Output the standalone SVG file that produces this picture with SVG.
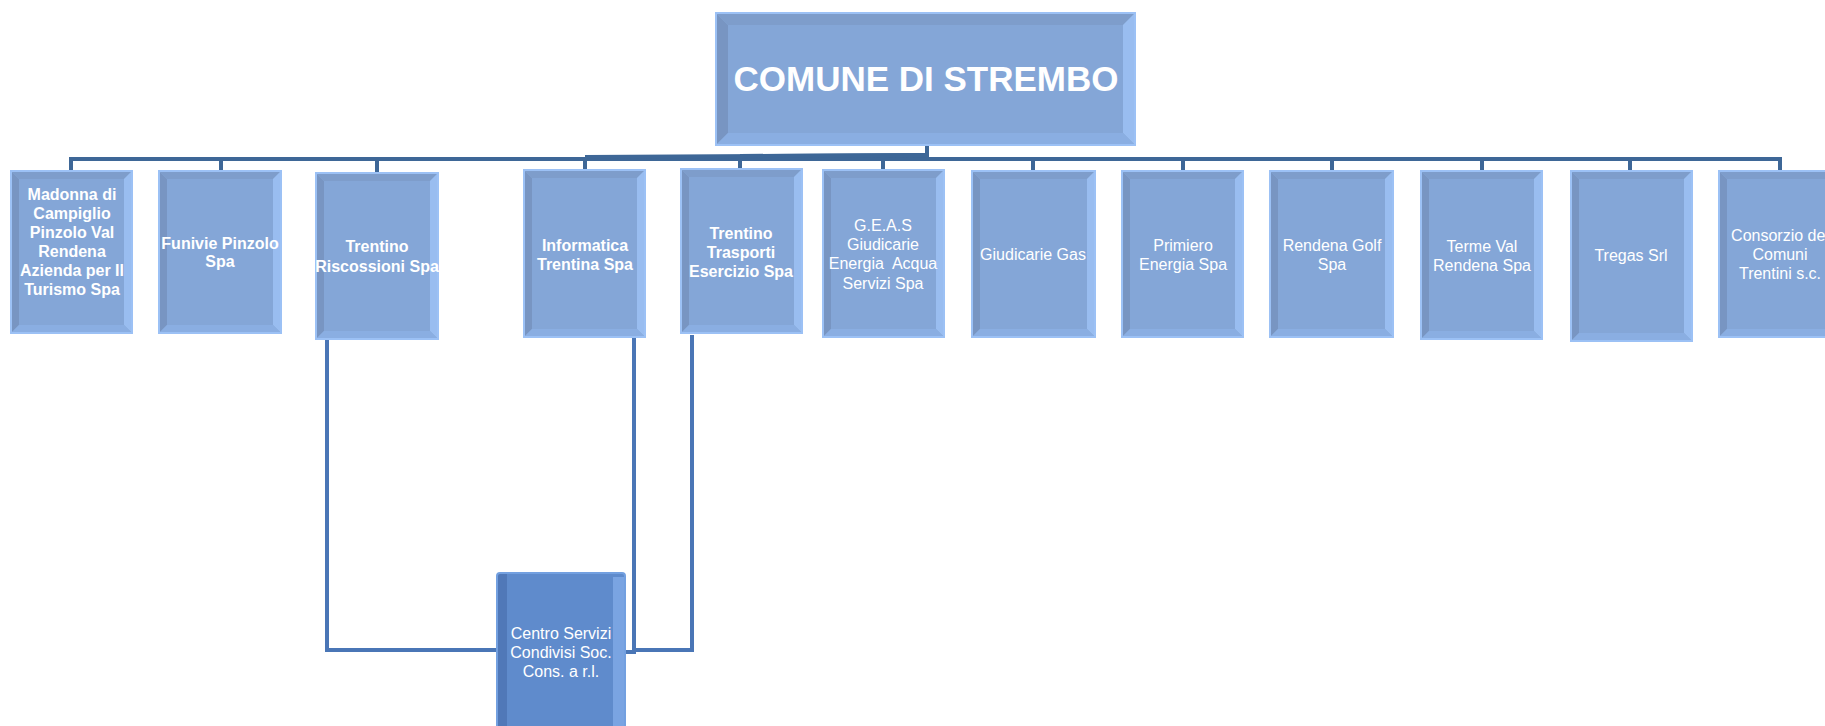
<svg xmlns="http://www.w3.org/2000/svg" width="1825" height="726" viewBox="0 0 1825 726">
<defs>
<style>
.face{fill:#84a6d7}
.bl{fill:#7895c2}
.bt{fill:#7e9dcb}
.br{fill:#99bdf0}
.bb{fill:#8aaee2}
.edge{fill:none;stroke:#9cc1f5;stroke-width:2}
.t{font-family:"Liberation Sans",Arial,sans-serif;font-size:16px;fill:#ffffff;text-anchor:middle}
.b{font-weight:bold}
.title{font-size:35px}
.conn{fill:none;stroke:#3e6797;stroke-width:4}
.conn2{fill:none;stroke:#4a76b6;stroke-width:4}
</style>
</defs>
<rect width="1825" height="726" fill="#ffffff"/>

<g id="connectors">
<line class="conn" x1="927" y1="146" x2="927" y2="160"/>
<line class="conn" x1="69" y1="159" x2="1782" y2="159" stroke-width="5"/>
<polyline class="conn" points="585,157 927,155" stroke-width="2"/>
<polyline class="conn" points="740,156 927,155" stroke-width="2"/>
<line class="conn" x1="71" y1="157" x2="71" y2="172"/>
<line class="conn" x1="221" y1="157" x2="221" y2="172"/>
<line class="conn" x1="377" y1="157" x2="377" y2="174"/>
<line class="conn" x1="585" y1="157" x2="585" y2="171"/>
<line class="conn" x1="740" y1="157" x2="740" y2="170"/>
<line class="conn" x1="883" y1="157" x2="883" y2="171"/>
<line class="conn" x1="1033" y1="157" x2="1033" y2="172"/>
<line class="conn" x1="1183" y1="157" x2="1183" y2="172"/>
<line class="conn" x1="1332" y1="157" x2="1332" y2="172"/>
<line class="conn" x1="1482" y1="157" x2="1482" y2="172"/>
<line class="conn" x1="1630" y1="157" x2="1630" y2="172"/>
<line class="conn" x1="1780" y1="157" x2="1780" y2="172"/>
<polyline class="conn2" points="327,339 327,650 497,650"/>
<polyline class="conn2" points="634,337 634,652 625,652"/>
<polyline class="conn2" points="692,335 692,650 634,650"/>
</g>

<g id="root">
<rect class="face" x="716" y="13" width="419" height="132"/>
<polygon class="bl" points="716,13 728,25 728,133 716,145"/>
<polygon class="bt" points="716,13 1135,13 1123,25 728,25"/>
<polygon class="br" points="1135,13 1135,145 1123,133 1123,25"/>
<polygon class="bb" points="716,145 728,133 1123,133 1135,145"/>
<rect class="face" x="728" y="25" width="395" height="108"/>
<rect class="edge" x="716" y="13" width="419" height="132"/>
<text class="t b title" x="926" y="91">COMUNE DI STREMBO</text>
</g>

<g id="n1">
<rect class="face" x="11" y="171" width="121" height="162"/>
<polygon class="bl" points="11,171 19,179 19,325 11,333"/>
<polygon class="bt" points="11,171 132,171 124,179 19,179"/>
<polygon class="br" points="132,171 132,333 124,325 124,179"/>
<polygon class="bb" points="11,333 19,325 124,325 132,333"/>
<rect class="edge" x="11" y="171" width="121" height="162"/>
<text class="t b" x="72" y="200">Madonna di</text>
<text class="t b" x="72" y="219">Campiglio</text>
<text class="t b" x="72" y="238">Pinzolo Val</text>
<text class="t b" x="72" y="257">Rendena</text>
<text class="t b" x="72" y="276">Azienda per Il</text>
<text class="t b" x="72" y="295">Turismo Spa</text>
</g>

<g id="n2">
<rect class="face" x="159" y="171" width="122" height="162"/>
<polygon class="bl" points="159,171 167,179 167,325 159,333"/>
<polygon class="bt" points="159,171 281,171 273,179 167,179"/>
<polygon class="br" points="281,171 281,333 273,325 273,179"/>
<polygon class="bb" points="159,333 167,325 273,325 281,333"/>
<rect class="edge" x="159" y="171" width="122" height="162"/>
<text class="t b" x="220" y="249">Funivie Pinzolo</text>
<text class="t b" x="220" y="267">Spa</text>
</g>

<g id="n3">
<rect class="face" x="316" y="173" width="122" height="166"/>
<polygon class="bl" points="316,173 324,181 324,331 316,339"/>
<polygon class="bt" points="316,173 438,173 430,181 324,181"/>
<polygon class="br" points="438,173 438,339 430,331 430,181"/>
<polygon class="bb" points="316,339 324,331 430,331 438,339"/>
<rect class="edge" x="316" y="173" width="122" height="166"/>
<text class="t b" x="377" y="252">Trentino</text>
<text class="t b" x="377" y="272">Riscossioni Spa</text>
</g>

<g id="n4">
<rect class="face" x="524" y="170" width="121" height="167"/>
<polygon class="bl" points="524,170 532,178 532,329 524,337"/>
<polygon class="bt" points="524,170 645,170 637,178 532,178"/>
<polygon class="br" points="645,170 645,337 637,329 637,178"/>
<polygon class="bb" points="524,337 532,329 637,329 645,337"/>
<rect class="edge" x="524" y="170" width="121" height="167"/>
<text class="t b" x="585" y="251">Informatica</text>
<text class="t b" x="585" y="270">Trentina Spa</text>
</g>

<g id="n5">
<rect class="face" x="681" y="169" width="121" height="164"/>
<polygon class="bl" points="681,169 689,177 689,325 681,333"/>
<polygon class="bt" points="681,169 802,169 794,177 689,177"/>
<polygon class="br" points="802,169 802,333 794,325 794,177"/>
<polygon class="bb" points="681,333 689,325 794,325 802,333"/>
<rect class="edge" x="681" y="169" width="121" height="164"/>
<text class="t b" x="741" y="239">Trentino</text>
<text class="t b" x="741" y="258">Trasporti</text>
<text class="t b" x="741" y="277">Esercizio Spa</text>
</g>

<g id="n6">
<rect class="face" x="823" y="170" width="121" height="167"/>
<polygon class="bl" points="823,170 831,178 831,329 823,337"/>
<polygon class="bt" points="823,170 944,170 936,178 831,178"/>
<polygon class="br" points="944,170 944,337 936,329 936,178"/>
<polygon class="bb" points="823,337 831,329 936,329 944,337"/>
<rect class="edge" x="823" y="170" width="121" height="167"/>
<text class="t" x="883" y="231">G.E.A.S</text>
<text class="t" x="883" y="250">Giudicarie</text>
<text class="t" x="883" y="269" xml:space="preserve">Energia  Acqua</text>
<text class="t" x="883" y="289">Servizi Spa</text>
</g>

<g id="n7">
<rect class="face" x="972" y="171" width="123" height="166"/>
<polygon class="bl" points="972,171 980,179 980,329 972,337"/>
<polygon class="bt" points="972,171 1095,171 1087,179 980,179"/>
<polygon class="br" points="1095,171 1095,337 1087,329 1087,179"/>
<polygon class="bb" points="972,337 980,329 1087,329 1095,337"/>
<rect class="edge" x="972" y="171" width="123" height="166"/>
<text class="t" x="1033" y="260">Giudicarie Gas</text>
</g>

<g id="n8">
<rect class="face" x="1122" y="171" width="121" height="166"/>
<polygon class="bl" points="1122,171 1130,179 1130,329 1122,337"/>
<polygon class="bt" points="1122,171 1243,171 1235,179 1130,179"/>
<polygon class="br" points="1243,171 1243,337 1235,329 1235,179"/>
<polygon class="bb" points="1122,337 1130,329 1235,329 1243,337"/>
<rect class="edge" x="1122" y="171" width="121" height="166"/>
<text class="t" x="1183" y="251">Primiero</text>
<text class="t" x="1183" y="270">Energia Spa</text>
</g>

<g id="n9">
<rect class="face" x="1270" y="171" width="123" height="166"/>
<polygon class="bl" points="1270,171 1278,179 1278,329 1270,337"/>
<polygon class="bt" points="1270,171 1393,171 1385,179 1278,179"/>
<polygon class="br" points="1393,171 1393,337 1385,329 1385,179"/>
<polygon class="bb" points="1270,337 1278,329 1385,329 1393,337"/>
<rect class="edge" x="1270" y="171" width="123" height="166"/>
<text class="t" x="1332" y="251">Rendena Golf</text>
<text class="t" x="1332" y="270">Spa</text>
</g>

<g id="n10">
<rect class="face" x="1421" y="171" width="121" height="168"/>
<polygon class="bl" points="1421,171 1429,179 1429,331 1421,339"/>
<polygon class="bt" points="1421,171 1542,171 1534,179 1429,179"/>
<polygon class="br" points="1542,171 1542,339 1534,331 1534,179"/>
<polygon class="bb" points="1421,339 1429,331 1534,331 1542,339"/>
<rect class="edge" x="1421" y="171" width="121" height="168"/>
<text class="t" x="1482" y="252">Terme Val</text>
<text class="t" x="1482" y="271">Rendena Spa</text>
</g>

<g id="n11">
<rect class="face" x="1571" y="171" width="121" height="170"/>
<polygon class="bl" points="1571,171 1579,179 1579,333 1571,341"/>
<polygon class="bt" points="1571,171 1692,171 1684,179 1579,179"/>
<polygon class="br" points="1692,171 1692,341 1684,333 1684,179"/>
<polygon class="bb" points="1571,341 1579,333 1684,333 1692,341"/>
<rect class="edge" x="1571" y="171" width="121" height="170"/>
<text class="t" x="1631" y="261">Tregas Srl</text>
</g>

<g id="n12">
<rect class="face" x="1719" y="171" width="121" height="166"/>
<polygon class="bl" points="1719,171 1727,179 1727,329 1719,337"/>
<polygon class="bt" points="1719,171 1840,171 1832,179 1727,179"/>
<polygon class="bb" points="1719,337 1727,329 1832,329 1840,337"/>
<rect class="edge" x="1719" y="171" width="121" height="166"/>
<text class="t" x="1780" y="241">Consorzio dei</text>
<text class="t" x="1780" y="260">Comuni</text>
<text class="t" x="1780" y="279">Trentini s.c.</text>
</g>

<g id="n13">
<rect x="497" y="573" width="128" height="160" fill="#5f8bcc"/>
<rect x="497" y="573" width="10" height="160" fill="#5078b8"/>
<rect x="613" y="577" width="12" height="156" fill="#7aa4e2"/>
<rect x="497" y="573" width="128" height="160" fill="none" stroke="#73a0e0" stroke-width="2" rx="3"/>
<text class="t" x="561" y="639">Centro Servizi</text>
<text class="t" x="561" y="658">Condivisi Soc.</text>
<text class="t" x="561" y="677">Cons. a r.l.</text>
</g>
</svg>
